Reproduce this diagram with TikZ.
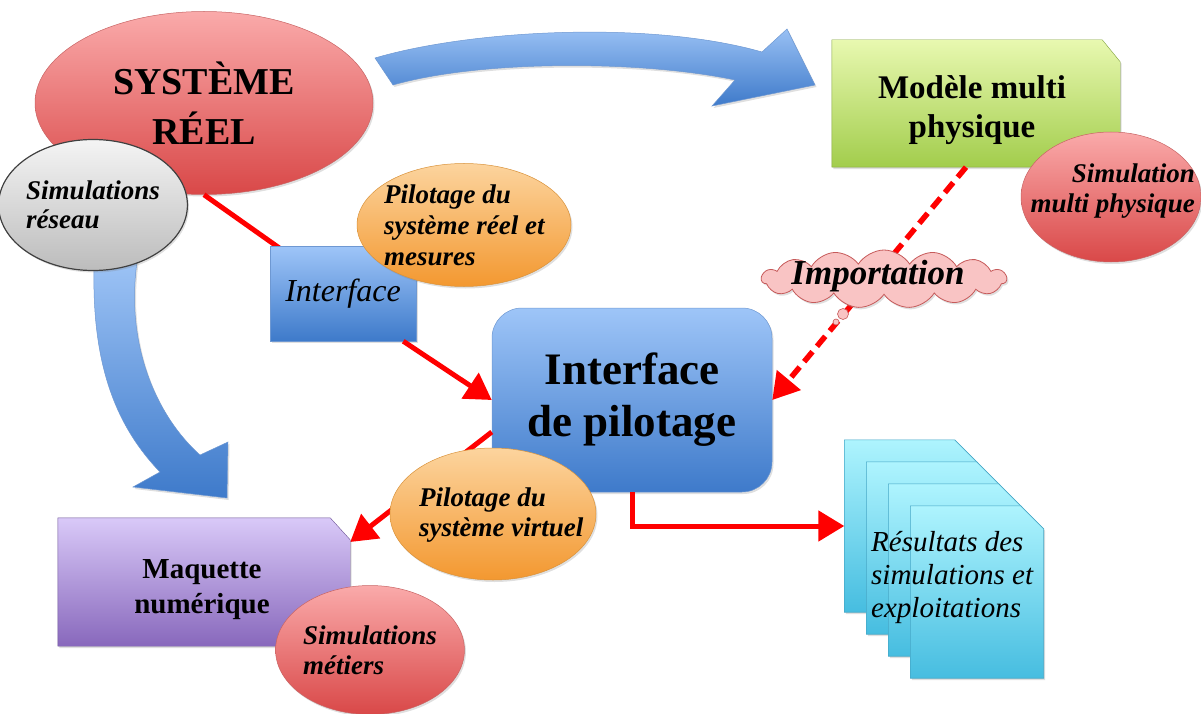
\documentclass[tikz,border=0pt]{standalone}
\usepackage{fontspec}
\setmainfont{Liberation Serif}
\usetikzlibrary{shapes.geometric,shapes.symbols,arrows.meta,shadows}
\definecolor{redT}{HTML}{FAAAAA}
\definecolor{redB}{HTML}{D94848}
\definecolor{redD}{HTML}{C86464}
\definecolor{grayT}{HTML}{F4F4F4}
\definecolor{grayB}{HTML}{BCBCBC}
\definecolor{orT}{HTML}{FCD49E}
\definecolor{orB}{HTML}{F39830}
\definecolor{orD}{HTML}{D9923A}
\definecolor{blT}{HTML}{9EC5F8}
\definecolor{blB}{HTML}{3E7ACA}
\definecolor{blD}{HTML}{6E98D2}
\definecolor{grT}{HTML}{E8F8B0}
\definecolor{grB}{HTML}{A2CD4C}
\definecolor{puT}{HTML}{D9C9F8}
\definecolor{puB}{HTML}{8868BC}
\definecolor{cyT}{HTML}{AEF4FE}
\definecolor{cyB}{HTML}{46BDE0}
\definecolor{cyD}{HTML}{44A6C6}
\definecolor{clF}{HTML}{F9C4C4}
\definecolor{clD}{HTML}{C65A5A}
\definecolor{arred}{HTML}{FF0000}
\newcommand{\snipfill}[4]{\path[#2] (#1.south west) -- (#1.north west) -- ([xshift=-#3]#1.north east) -- ([yshift=-#4]#1.north east) -- (#1.south east) -- cycle;}
\begin{document}
\begin{tikzpicture}[x=1pt,y=-1pt,
  shd/.style={drop shadow={opacity=0.25,shadow xshift=1.5pt,shadow yshift=-2pt}},
  ph/.style={rectangle,inner sep=0pt},
  redell/.style={ellipse,inner sep=0pt,top color=redT,bottom color=redB,draw=redD,line width=0.5pt,shd},
  grayell/.style={ellipse,inner sep=0pt,top color=grayT,bottom color=grayB,draw=black!75,line width=1.2pt,shd},
  orell/.style={ellipse,inner sep=0pt,top color=orT,bottom color=orB,draw=orD,line width=0.5pt,shd},
  bluebox/.style={rectangle,inner sep=0pt,top color=blT,bottom color=blB,draw=blD,line width=0.5pt,shd},
  bluearr/.style={top color=blT!95!white,bottom color=blB,draw=blD,line width=0.5pt,shd},
  grfill/.style={top color=grT,bottom color=grB,draw=grB!80!black,line width=0.4pt,shd},
  pufill/.style={top color=puT,bottom color=puB,draw=puB!80!black,line width=0.4pt,shd},
  cyfill/.style={top color=cyT,bottom color=cyB,draw=cyD,line width=0.6pt,shd},
  lab/.style={align=left,inner sep=0pt},
  redarr/.style={draw=arred,line width=5pt,-{Triangle[length=26pt,width=30pt]}},
  dasharr/.style={draw=arred,line width=5.5pt,dash pattern=on 13pt off 7pt,-{Triangle[length=26pt,width=30pt]}},
]
\useasboundingbox (0,0) rectangle (1201,714);

% big curved arrow top
\path[bluearr] (375,58) .. controls (470,30) and (650,20) .. (762,52) -- (787,29) -- (815,85) -- (712,106) -- (735,80) .. controls (640,60) and (480,60) .. (393,85) -- cycle;

% Systeme reel
\node[redell,minimum width=338pt,minimum height=183pt,align=center,
      font=\bfseries\fontsize{38}{50}\selectfont] (sys) at (204,103) {SYSTÈME\\RÉEL};

% left curved arrow
\path[bluearr] (95,245) .. controls (88,360) and (115,425) .. (160,472) -- (133,487) -- (227,498) -- (228,442) -- (200,455) .. controls (150,410) and (122,330) .. (140,245) -- cycle;

% Simulations reseau
\node[grayell,minimum width=167pt,minimum height=131pt,align=left,
      font=\bfseries\itshape\fontsize{27}{29}\selectfont] (sr) at (93,205) {Simulations\\réseau};

% line systeme -> interface
\draw[draw=arred,line width=5pt] (sys.south) -- (343,293);

% small interface box
\node[bluebox,minimum width=146pt,minimum height=95pt,
      font=\itshape\fontsize{32}{36}\selectfont] (iface) at (343,293.5) {Interface};

% pilotage reel
\node[orell,minimum width=214pt,minimum height=123pt] (pr) at (464,225) {};
\node[lab,anchor=west,font=\bfseries\itshape\fontsize{27}{31}\selectfont] (prt) at (384,225) {Pilotage du\\système réel et\\mesures};

% modele multi physique
\node[ph,minimum width=288pt,minimum height=127pt] (mod) at (976,103.5) {};
\snipfill{mod}{grfill}{18pt}{22pt}
\node[align=center,font=\bfseries\fontsize{33}{39}\selectfont] (modt) at (972,110) {Modèle multi\\physique};

% simulation multi physique
\node[redell,minimum width=180pt,minimum height=130pt] (smp) at (1111,197) {};
\node[lab,anchor=east,align=right,font=\bfseries\itshape\fontsize{27}{30}\selectfont] (smpt) at (1195,191) {Simulation\\multi physique};

% interface de pilotage
\node[bluebox,rounded corners=30pt,minimum width=280pt,minimum height=184pt,align=center,
      font=\bfseries\fontsize{45}{52}\selectfont] (ip) at (632,400) {Interface\\de pilotage};

% dashed importation arrow
\draw[dasharr] ([xshift=-10pt]mod.south) -- (ip.east);
\node[cloud,cloud puffs=15,cloud puff arc=115,aspect=4,minimum width=245pt,minimum height=58pt,
      fill=clF,draw=clD,line width=0.8pt,shd] (imp) at (884,279) {};
\node[circle,inner sep=0pt,minimum size=11pt,fill=clF,draw=clD,line width=0.6pt] (b1) at (843,314) {};
\node[circle,inner sep=0pt,minimum size=6pt,fill=clF,draw=clD,line width=0.6pt] (b2) at (836,322) {};
\node[font=\bfseries\itshape\fontsize{35}{38}\selectfont,inner sep=0pt] (impt) at (878,276) {Importation};

% arrow interface -> interface de pilotage
\draw[redarr] ([xshift=-13pt]iface.south east) -- (ip.west);

% maquette numerique
\node[ph,minimum width=292pt,minimum height=128pt] (maq) at (204,582) {};
\draw[redarr] ([yshift=-32pt]ip.west) -- ([yshift=40pt]maq.east);
\snipfill{maq}{pufill}{20pt}{22pt}
\node[align=center,font=\bfseries\fontsize{29}{35}\selectfont] (maqt) at (202,590) {Maquette\\numérique};

% simulations metiers
\node[redell,minimum width=166pt,minimum height=129pt,align=left,
      font=\bfseries\itshape\fontsize{27}{30}\selectfont] (sm) at (370,650) {Simulations\\métiers};

% pilotage virtuel
\node[orell,minimum width=206pt,minimum height=132pt] (pv) at (493,514) {};
\node[lab,anchor=west,font=\bfseries\itshape\fontsize{27}{30}\selectfont] (pvt) at (419,515) {Pilotage du\\système virtuel};

% result documents
\node[ph,minimum width=133pt,minimum height=172pt] (doc1) at (911,526) {};
\node[ph,minimum width=133pt,minimum height=172pt] (doc2) at (933,548) {};
\node[ph,minimum width=133pt,minimum height=172pt] (doc3) at (955,570) {};
\node[ph,minimum width=133pt,minimum height=172pt] (doc4) at (977,592) {};
\snipfill{doc1}{cyfill}{23pt}{23pt}
\snipfill{doc2}{cyfill}{23pt}{23pt}
\snipfill{doc3}{cyfill}{23pt}{23pt}
\snipfill{doc4}{cyfill}{23pt}{23pt}
\node[lab,anchor=west,font=\itshape\fontsize{29}{33}\selectfont] (rest) at (871,578) {Résultats des\\simulations et\\exploitations};

\draw[redarr] (ip.south) |- (doc1.west);
\end{tikzpicture}
\end{document}
